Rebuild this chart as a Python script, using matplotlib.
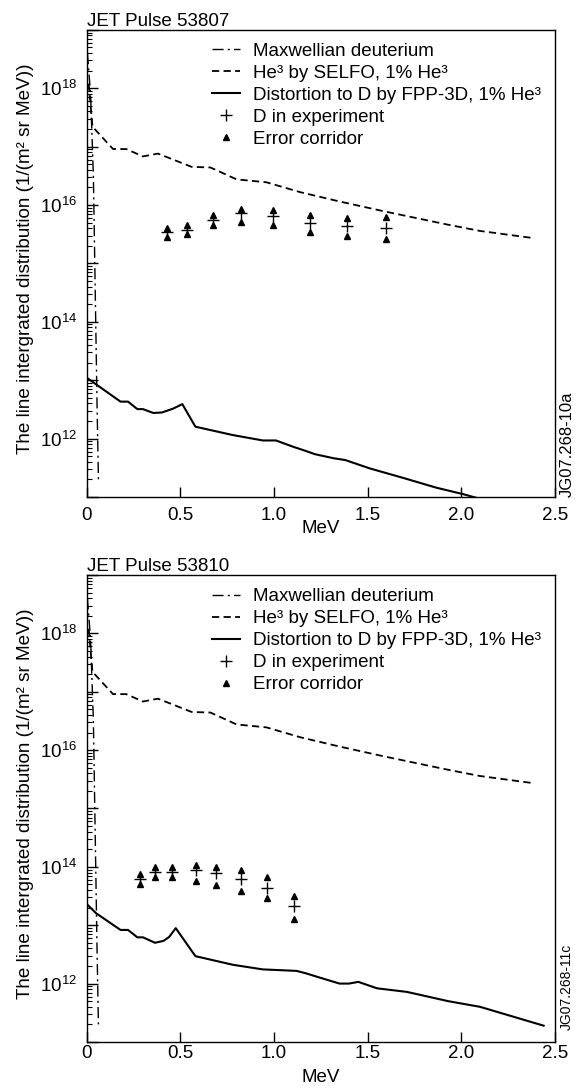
import numpy as np
import matplotlib
matplotlib.use("Agg")
import matplotlib.pyplot as plt
from matplotlib.ticker import LogLocator, FuncFormatter, NullFormatter

plt.rcParams['font.family'] = ['Liberation Sans', 'DejaVu Sans']
plt.rcParams['mathtext.default'] = 'regular'

# --- data -----------------------------------------------------------------
# Maxwellian deuterium (same in both pulses)
maxw_E = [0.003, 0.02, 0.035, 0.04, 0.045, 0.05, 0.055, 0.062]
maxw_f = [4.0e18, 8.0e17, 3.2e16, 3.2e15, 3.2e14, 3.2e13, 3.2e12, 2.0e11]

# He3 by SELFO (same in both pulses)
selfo_E = [0.01, 0.03, 0.14, 0.21, 0.30, 0.38, 0.56, 0.66, 0.80, 0.96,
           1.14, 1.35, 1.58, 1.93, 2.10, 2.39]
selfo_f = [1.2e18, 2.2e17, 9.1e16, 9.1e16, 6.8e16, 7.6e16, 4.5e16, 4.4e16,
           2.75e16, 2.45e16, 1.66e16, 1.15e16, 7.9e15, 4.6e15, 3.6e15, 2.7e15]

# pulse 53807
fpp1_E = [0, 0.18, 0.22, 0.27, 0.30, 0.355, 0.40, 0.46, 0.51, 0.58, 0.78,
          0.94, 1.01, 1.105, 1.16, 1.22, 1.32, 1.38, 1.51, 1.695, 1.865,
          2.01, 2.09]
fpp1_f = [1.1e13, 4.3e12, 4.3e12, 3.2e12, 3.2e12, 2.75e12, 2.8e12, 3.25e12,
          3.9e12, 1.6e12, 1.15e12, 9.3e11, 9.3e11, 7.2e11, 6.3e11, 5.4e11,
          4.6e11, 4.3e11, 3.1e11, 2.1e11, 1.45e11, 1.12e11, 9.5e10]
exp1_E = [0.427, 0.534, 0.674, 0.825, 0.995, 1.19, 1.39, 1.60]
exp1_f = [3.4e15, 3.8e15, 5.5e15, 7.2e15, 6.5e15, 5.0e15, 4.4e15, 4.1e15]
exp1_hi = [4.1e15, 4.6e15, 6.8e15, 8.7e15, 8.1e15, 6.8e15, 6.0e15, 6.2e15]
exp1_lo = [2.8e15, 3.2e15, 4.5e15, 5.2e15, 4.6e15, 3.5e15, 2.9e15, 2.6e15]

# pulse 53810
fpp2_E = [0, 0.05, 0.18, 0.22, 0.27, 0.30, 0.364, 0.41, 0.44, 0.475, 0.58,
          0.78, 0.94, 1.12, 1.17, 1.25, 1.35, 1.40, 1.45, 1.55, 1.71, 1.93,
          2.10, 2.44]
fpp2_f = [2.3e13, 1.6e13, 8.3e12, 8.3e12, 6.2e12, 6.2e12, 5.0e12, 5.4e12,
          6.3e12, 8.9e12, 2.95e12, 2.1e12, 1.75e12, 1.65e12, 1.5e12, 1.25e12,
          1.0e12, 1.0e12, 1.07e12, 8.3e11, 7.2e11, 5.0e11, 4.0e11, 1.9e11]
exp2_E = [0.284, 0.364, 0.454, 0.582, 0.690, 0.824, 0.963, 1.109]
exp2_f = [6.2e13, 8.1e13, 8.1e13, 8.9e13, 7.8e13, 6.2e13, 4.4e13, 2.1e13]
exp2_hi = [7.4e13, 9.8e13, 9.8e13, 1.07e14, 9.8e13, 8.9e13, 6.8e13, 3.2e13]
exp2_lo = [5.1e13, 6.6e13, 6.6e13, 5.8e13, 4.9e13, 3.9e13, 2.9e13, 1.3e13]

xticks = [0, 0.5, 1.0, 1.5, 2.0, 2.5]
xticklabels = ['0', '0.5', '1.0', '1.5', '2.0', '2.5']
labels = ['Maxwellian deuterium', 'He³ by SELFO, 1% He³',
          'Distortion to D by FPP-3D, 1% He³', 'D in experiment',
          'Error corridor']
ylab = 'The line intergrated distribution (1/(m² sr MeV))'
FS = 13.5


def ylabel_fmt(v, pos):
    e = int(round(np.log10(v)))
    if e % 2 == 0 and 11 <= e <= 19:
        return r'$10^{%d}$' % e
    return ''


def draw_panel(ax, title, fpp_E, fpp_f, ex_E, ex_f, ex_hi, ex_lo,
               xpad, xlabpad):
    ax.set_yscale('log')
    l1, = ax.plot(maxw_E, maxw_f, color='k', lw=1.0,
                  linestyle=(0, (8, 3, 1.5, 3)))
    l2, = ax.plot(selfo_E, selfo_f, color='k', lw=1.3, linestyle=(0, (4, 2.4)))
    l3, = ax.plot(fpp_E, fpp_f, color='k', lw=1.5)
    l4, = ax.plot(ex_E, ex_f, '+', color='k', ms=8.5, mew=1.0)
    l5, = ax.plot(ex_E, ex_hi, '^', color='k', ms=5)
    ax.plot(ex_E, ex_lo, '^', color='k', ms=5)

    ax.set_xlim(0, 2.5)
    ax.set_ylim(1e11, 1e19)
    ax.set_xticks(xticks)
    ax.set_xticklabels(xticklabels)
    ax.yaxis.set_major_locator(LogLocator(base=10, numticks=20))
    ax.yaxis.set_major_formatter(FuncFormatter(ylabel_fmt))
    ax.yaxis.set_minor_locator(LogLocator(base=10, subs=np.arange(2, 10), numticks=20))
    ax.yaxis.set_minor_formatter(NullFormatter())
    ax.tick_params(axis='x', which='both', direction='in', length=7,
                   width=1, labelsize=FS, pad=xpad, top=False)
    ax.tick_params(axis='y', which='major', direction='in', length=8,
                   width=1, labelsize=FS, pad=7, right=False)
    ax.tick_params(axis='y', which='minor', direction='in', length=3.5,
                   width=0.8, right=False)
    for s in ax.spines.values():
        s.set_linewidth(1.0)

    ax.set_title(title, loc='left', fontsize=FS, pad=3)
    ax.set_xlabel('MeV', fontsize=FS, labelpad=xlabpad)
    ax.set_ylabel(ylab, fontsize=13.6, labelpad=4, y=0.511)
    ax.legend([l1, l2, l3, l4, l5], labels, loc='upper left',
              bbox_to_anchor=(0.267, 0.972), frameon=False, fontsize=FS,
              borderpad=0, borderaxespad=0, handlelength=1.5,
              handletextpad=0.7, labelspacing=0.26, numpoints=1)


fig = plt.figure(figsize=(5.75, 10.89), dpi=100)
ax1 = fig.add_axes([0.151, 0.5436, 0.814, 0.429])
ax2 = fig.add_axes([0.151, 0.0432, 0.814, 0.4288])

draw_panel(ax1, 'JET Pulse 53807', fpp1_E, fpp1_f, exp1_E, exp1_f,
           exp1_hi, exp1_lo, xpad=7.5, xlabpad=-3)
draw_panel(ax2, 'JET Pulse 53810', fpp2_E, fpp2_f, exp2_E, exp2_f,
           exp2_hi, exp2_lo, xpad=2.5, xlabpad=5)

fig.text(0.986, 1 - 497 / 1089, 'JG07.268-10a', rotation=90, ha='center',
         va='bottom', fontsize=12)
fig.text(0.986, 1 - 1030 / 1089, 'JG07.268-11c', rotation=90, ha='center',
         va='bottom', fontsize=10)

fig.savefig('out.png', dpi=100)
